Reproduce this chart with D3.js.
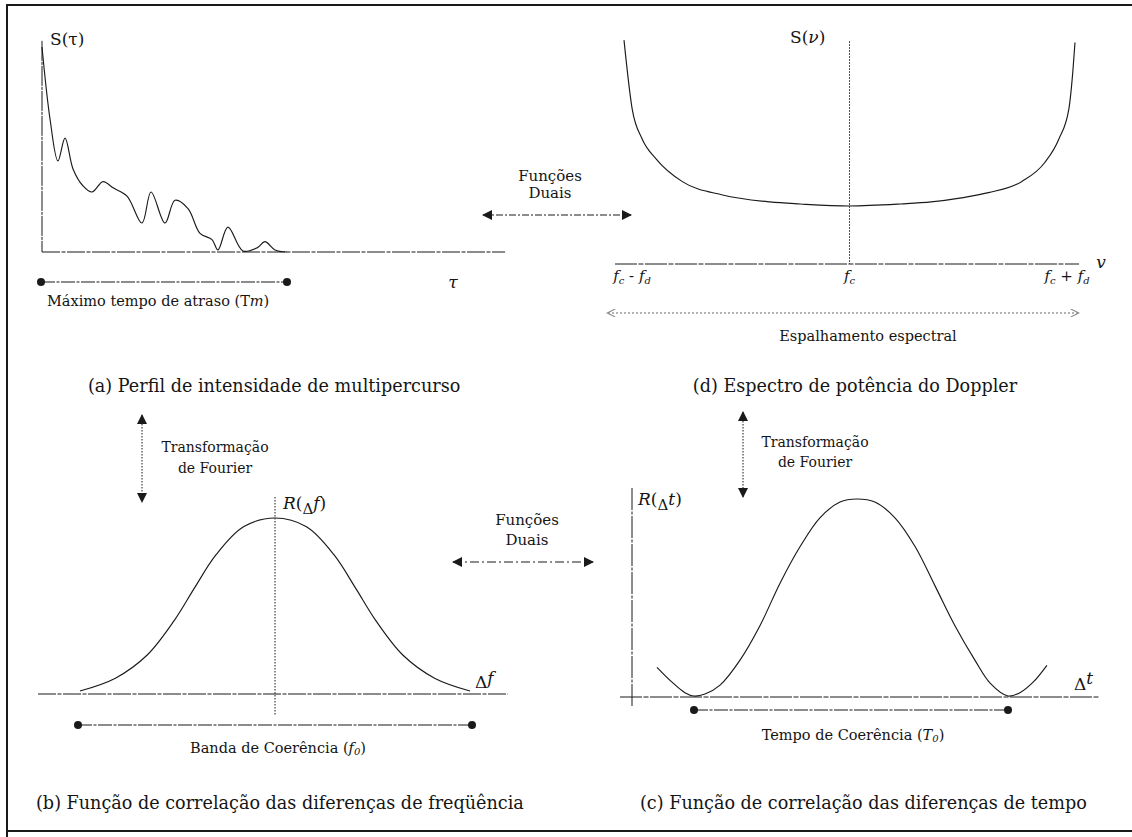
<!DOCTYPE html>
<html>
<head>
<meta charset="utf-8">
<script src="https://cdn.jsdelivr.net/npm/d3@7"></script>
<style>
  html, body { margin: 0; padding: 0; background: #fff; }
  svg text { font-family: "DejaVu Serif", "Liberation Serif", serif; fill: #151515; }
</style>
</head>
<body>
<svg id="fig" width="1132" height="837"></svg>
<script>
// (a) Multipath intensity profile: delay (Tm = 10) vs relative intensity
const delayA     = [0, 0.33, 0.65, 0.94, 1.27, 1.67, 2.04, 2.49, 2.90, 3.47, 4.08, 4.45, 5.02, 5.43, 5.96, 6.45, 6.94, 7.18, 7.59, 8.20, 8.78, 9.10, 9.51, 10.0];
const intensityA = [0.99, 0.64, 0.44, 0.55, 0.40, 0.32, 0.29, 0.34, 0.31, 0.27, 0.14, 0.29, 0.14, 0.25, 0.21, 0.09, 0.06, 0.01, 0.12, 0.005, 0.02, 0.05, 0.01, 0.0];

// (d) Doppler power spectrum: normalised offset (nu - fc)/fd vs S(nu)
const nuD = [-1.0, -0.964, -0.92, -0.857, -0.741, -0.563, -0.353, -0.219, 0, 0.228, 0.362, 0.496, 0.616, 0.763, 0.866, 0.929, 0.973, 0.99, 1.0];
const sD  = [3.86, 2.68, 2.16, 1.81, 1.42, 1.19, 1.07, 1.035, 1.0, 1.035, 1.07, 1.14, 1.23, 1.42, 1.75, 2.16, 2.68, 3.3, 3.82];
const dopplerTicks = [-1, 0, 1];

// (b) Spaced-frequency correlation: delta f / f0 vs R
const dfB = [-0.99, -0.81, -0.65, -0.51, -0.41, -0.30, -0.16, 0, 0.16, 0.30, 0.41, 0.51, 0.65, 0.81, 0.99];
const rB  = [0.017, 0.09, 0.22, 0.42, 0.60, 0.79, 0.95, 1.0, 0.95, 0.79, 0.60, 0.42, 0.22, 0.09, 0.017];

// (c) Spaced-time correlation: delta t / T0 vs R
const dtC = [-0.118, -0.07, -0.029, 0, 0.035, 0.083, 0.146, 0.21, 0.274, 0.338, 0.401, 0.465, 0.519, 0.576, 0.64, 0.704, 0.768, 0.831, 0.895, 0.943, 1.0, 1.038, 1.08, 1.124];
const rC  = [0.15, 0.075, 0.022, 0.005, 0.015, 0.06, 0.185, 0.36, 0.575, 0.76, 0.905, 0.985, 1.0, 0.985, 0.905, 0.76, 0.56, 0.36, 0.185, 0.07, 0.005, 0.022, 0.075, 0.16];

const captions = [
  "(a) Perfil de intensidade de multipercurso",
  "(d) Espectro de potência do Doppler",
  "(b) Função de correlação das diferenças de freqüência",
  "(c) Função de correlação das diferenças de tempo"
];

const svg = d3.select("#fig");
const ink = "#1a1a1a";

// arrowheads
const defs = svg.append("defs");
defs.append("marker").attr("id", "headFill")
  .attr("viewBox", "0 0 10 10").attr("refX", 9).attr("refY", 5)
  .attr("markerWidth", 13).attr("markerHeight", 10).attr("markerUnits", "userSpaceOnUse")
  .attr("orient", "auto-start-reverse")
  .append("path").attr("d", "M0,0 L10,5 L0,10 z").attr("fill", ink);
defs.append("marker").attr("id", "headOpen")
  .attr("viewBox", "0 0 10 10").attr("refX", 9).attr("refY", 5)
  .attr("markerWidth", 12).attr("markerHeight", 8).attr("markerUnits", "userSpaceOnUse")
  .attr("orient", "auto-start-reverse")
  .append("path").attr("d", "M0,0 L10,5 L0,10").attr("fill", "none").attr("stroke", "#888").attr("stroke-width", 1.3);

// frame
svg.append("path").attr("d", "M7,837 L7,5 L1132,5").attr("fill", "none").attr("stroke", ink).attr("stroke-width", 2);
svg.append("line").attr("x1", 7).attr("x2", 1132).attr("y1", 831).attr("y2", 831).attr("stroke", ink).attr("stroke-width", 2);

function hline(x1, x2, y, dash, w) {
  return svg.append("line").attr("x1", x1).attr("x2", x2).attr("y1", y).attr("y2", y)
    .attr("stroke", ink).attr("stroke-width", w || 1).attr("stroke-dasharray", dash || null);
}
function vline(x, y1, y2, dash, w) {
  return svg.append("line").attr("x1", x).attr("x2", x).attr("y1", y1).attr("y2", y2)
    .attr("stroke", ink).attr("stroke-width", w || 1).attr("stroke-dasharray", dash || null);
}
function interval(x1, x2, y) {
  hline(x1, x2, y, "14,1.5,3,1.5", 1.1);
  svg.append("circle").attr("cx", x1).attr("cy", y).attr("r", 4).attr("fill", ink);
  svg.append("circle").attr("cx", x2).attr("cy", y).attr("r", 4).attr("fill", ink);
}
function label(x, y, size, parts, anchor) {
  const t = svg.append("text").attr("x", x).attr("y", y).attr("font-size", size)
    .attr("text-anchor", anchor || "start");
  parts.forEach(p => {
    const s = t.append("tspan").text(p.t);
    if (p.i) s.attr("font-style", "italic");
    if (p.dy) s.attr("dy", p.dy);
    if (p.fs) s.attr("font-size", p.fs);
  });
  return t;
}
function dualArrow(x1, x2, y, dash) {
  svg.append("line").attr("x1", x1).attr("x2", x2).attr("y1", y).attr("y2", y)
    .attr("stroke", ink).attr("stroke-width", 1).attr("stroke-dasharray", dash)
    .attr("marker-start", "url(#headFill)").attr("marker-end", "url(#headFill)");
}
function vArrow(x, y1, y2) {
  svg.append("line").attr("x1", x).attr("x2", x).attr("y1", y1).attr("y2", y2)
    .attr("stroke", ink).attr("stroke-width", 1).attr("stroke-dasharray", "1.5,1.5")
    .attr("marker-start", "url(#headFill)").attr("marker-end", "url(#headFill)");
}
const curveStyle = p => p.attr("fill", "none").attr("stroke", ink).attr("stroke-width", 1.15);
const small = 14.5, cap = 17.6;

// ---------- (a) ----------
const xA = d3.scaleLinear().domain([0, 10]).range([42, 287]);
const yA = d3.scaleLinear().domain([0, 1]).range([252, 45]);
vline(xA(0), yA(1.02), yA(0), "20,1,3,1", 1);
hline(xA(0), xA(18.9), yA(0), "18,1.5,4,1.5", 1);
curveStyle(svg.append("path")
  .attr("d", d3.line().x((d, i) => xA(delayA[i])).y(d => yA(d)).curve(d3.curveCatmullRom.alpha(0.5))(intensityA)));
label(50, 45, 17, [{ t: "S(τ)" }]);
label(xA(16.77), 288, 17, [{ t: "τ", i: true }], "middle");
interval(xA(0) - 1, xA(10), 282);
label(47, 306, small, [{ t: "Máximo tempo de atraso (T" }, { t: "m", i: true }, { t: ")" }]);
label(88, 392, cap, [{ t: captions[0] }]);

// ---------- upper "Funções Duais" ----------
label(550, 181, 15, [{ t: "Funções" }], "middle");
label(550, 198, 15, [{ t: "Duais" }], "middle");
dualArrow(483, 631, 215, "7,2,2,2");

// ---------- (d) ----------
const xD = d3.scaleLinear().domain([-1, 1]).range([624, 1075]);
const yD = d3.scaleLinear().domain([0, 1]).range([264, 206]);
hline(xD(-1.04), xD(1.018), yD(0), "22,1.5,5,1.5", 1);
vline(xD(0), yD(3.84), yD(0), "1.5,1.5", 1);
curveStyle(svg.append("path")
  .attr("d", d3.line().x((d, i) => xD(nuD[i])).y(d => yD(d)).curve(d3.curveMonotoneX)(sD)));
label(790, 43, 17, [{ t: "S(" }, { t: "ν", i: true }, { t: ")" }]);
label(1101, 268, 17, [{ t: "v", i: true }], "middle");
dopplerTicks.forEach(v => {
  const parts = v === 0
    ? [{ t: "f", i: true }, { t: "c", i: true, dy: 3, fs: 10 }]
    : [{ t: "f", i: true }, { t: "c", i: true, dy: 3, fs: 10 }, { t: v < 0 ? " - " : " + ", dy: -3 },
       { t: "f", i: true }, { t: "d", i: true, dy: 3, fs: 10 }];
  label(xD(v) + (v < 0 ? 8 : v > 0 ? -8 : 0), 281, 15, parts, "middle");
});
svg.append("line").attr("x1", 608).attr("x2", 1078).attr("y1", 313).attr("y2", 313)
  .attr("stroke", "#666").attr("stroke-width", 1).attr("stroke-dasharray", "2,2")
  .attr("marker-start", "url(#headOpen)").attr("marker-end", "url(#headOpen)");
label(868, 341, small, [{ t: "Espalhamento espectral" }], "middle");
label(855, 392, cap, [{ t: captions[1] }], "middle");

// ---------- (b) ----------
const xB = d3.scaleLinear().domain([-1, 1]).range([78, 472]);
const yB = d3.scaleLinear().domain([0, 1]).range([694, 518]);
vArrow(142, 415, 502);
label(215, 452, 14, [{ t: "Transformação" }], "middle");
label(215, 473, 14, [{ t: "de Fourier" }], "middle");
vline(xB(0), 497, 715, "1.5,1.5", 1);
hline(38, 508, yB(0), "18,1.5,4,1.5", 1);
curveStyle(svg.append("path")
  .attr("d", d3.line().x((d, i) => xB(dfB[i])).y(d => yB(d)).curve(d3.curveCatmullRom.alpha(0.5))(rB)));
label(283, 509, 17, [{ t: "R", i: true }, { t: "(" }, { t: "Δ", dy: 5, fs: 15 }, { t: "f", i: true, dy: -5 }, { t: ")" }]);
label(475, 688, 17, [{ t: "Δ" }, { t: "f", i: true, dy: -4 }]);
interval(xB(-1), xB(1), 725);
label(278, 753, small, [{ t: "Banda de Coerência (" }, { t: "f", i: true }, { t: "0", i: true, dy: 2, fs: 10 }, { t: ")", dy: -2 }], "middle");
label(36, 809, cap, [{ t: captions[2] }]);

// ---------- lower "Funções Duais" ----------
label(527, 525, 15, [{ t: "Funções" }], "middle");
label(527, 545, 15, [{ t: "Duais" }], "middle");
dualArrow(453, 593, 562, "9,3,2,3");

// ---------- (c) ----------
const xC = d3.scaleLinear().domain([0, 1]).range([694, 1008]);
const yC = d3.scaleLinear().domain([0, 1]).range([697, 499]);
vArrow(743, 412, 497);
label(815, 447, 14, [{ t: "Transformação" }], "middle");
label(815, 467, 14, [{ t: "de Fourier" }], "middle");
vline(632, 488, 707, "22,1.5,3,1.5", 1);
hline(620, 1100, yC(0), "22,1.5,5,1.5", 1);
curveStyle(svg.append("path")
  .attr("d", d3.line().x((d, i) => xC(dtC[i])).y(d => yC(d)).curve(d3.curveCatmullRom.alpha(0.5))(rC)));
label(638, 505, 17, [{ t: "R", i: true }, { t: "(" }, { t: "Δ", dy: 5, fs: 15 }, { t: "t", i: true, dy: -5 }, { t: ")" }]);
label(1074, 690, 17, [{ t: "Δ" }, { t: "t", i: true, dy: -6 }]);
interval(xC(0), xC(1), 710);
label(853, 740, small, [{ t: "Tempo de Coerência (" }, { t: "T", i: true }, { t: "0", i: true, dy: 2, fs: 10 }, { t: ")", dy: -2 }], "middle");
label(640, 809, cap, [{ t: captions[3] }]);
</script>
</body>
</html>
